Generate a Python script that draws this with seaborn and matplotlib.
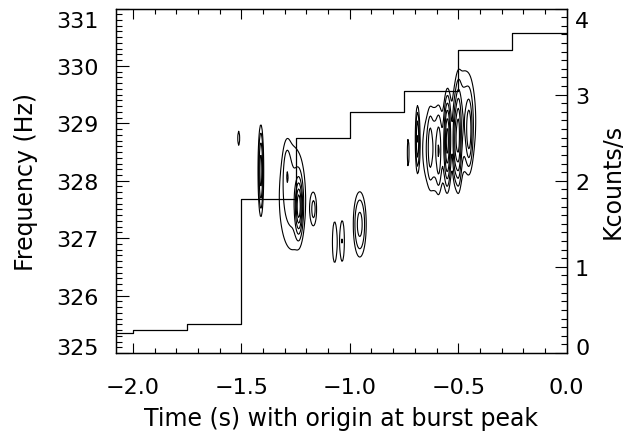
import numpy as np
import pandas as pd
import matplotlib
matplotlib.use("Agg")
import matplotlib.pyplot as plt
import matplotlib.transforms as mtransforms
import seaborn as sns
from matplotlib.ticker import MultipleLocator

sns.set_style("ticks")
plt.rcParams['font.family'] = ['DejaVu Sans']
for k in ['text.color', 'axes.labelcolor', 'xtick.color', 'ytick.color', 'axes.edgecolor']:
    plt.rcParams[k] = 'black'

# ---- count-rate light curve (Kcounts/s), 0.25 s bins ----
bin_edges = [-2.25, -2.0, -1.75, -1.5, -1.25, -1.0, -0.75, -0.5, -0.25, 0.0]
rate_kcps = [0.23, 0.27, 0.34, 1.79, 2.50, 2.80, 3.04, 3.52, 3.71, 3.71]

# ---- power peaks ----
peak_time = [-1.512, -1.41,
             -1.265, -1.235, -1.29, -1.166,
             -1.07, -1.035, -0.954,
             -0.731, -0.688, -0.61, -0.47,
             -0.63, -0.59, -0.55, -0.515, -0.50, -0.45]
peak_freq = [328.74, 328.18,
             327.7, 327.55, 328.2, 327.50,
             326.93, 326.95, 327.24,
             328.49, 328.74, 328.55, 329.05,
             328.6, 328.5, 328.7, 328.65, 328.75, 328.85]
peak_power = [1.3, 3.5,
              1.8, 4.5, 0.8, 1.4,
              1.5, 1.5, 2.5,
              1.3, 2.6, 2.05, 2.05,
              1.0, 1.2, 4.5, 2.0, 4.0, 2.2]
peak_sig_t = [0.006, 0.008,
              0.055, 0.010, 0.012, 0.012,
              0.011, 0.011, 0.022,
              0.005, 0.006, 0.045, 0.042,
              0.007, 0.007, 0.009, 0.007, 0.009, 0.009]
peak_sig_f = [0.17, 0.5,
              0.83, 0.28, 0.35, 0.24,
              0.39, 0.39, 0.42,
              0.3, 0.37, 0.6, 0.72,
              0.35, 0.4, 0.45, 0.4, 0.5, 0.35]
contour_levels = [1.0, 1.5, 2.2, 3.0, 4.0, 5.0]

# grid for the power map
t_grid = np.arange(-2.08, 0.0001, 0.004)
f_grid = np.arange(325.0, 331.0001, 0.05)
T, F = np.meshgrid(t_grid, f_grid)
P = np.zeros_like(T)
for t0, f0, a, st, sf in zip(peak_time, peak_freq, peak_power, peak_sig_t, peak_sig_f):
    P += a * np.exp(-0.5 * (((T - t0) / st) ** 2 + ((F - f0) / sf) ** 2))

W, H = 623, 435
fig = plt.figure(figsize=(W / 100, H / 100), dpi=100)
x0, x1, y0, y1 = 115.5, 566.7, 9.5, 354.0
ax = fig.add_axes([x0 / W, 1 - y1 / H, (x1 - x0) / W, (y1 - y0) / H])
ax2 = ax.twinx()

ax.contour(T, F, P, levels=contour_levels, colors='black', linewidths=0.8)

df = pd.DataFrame({'time': bin_edges, 'rate': rate_kcps})
sns.lineplot(data=df, x='time', y='rate', ax=ax2, color='black',
             linewidth=0.9, drawstyle='steps-post', estimator=None)

ax.set_xlim(-2.08, 0.0)
ax.set_ylim(325, 331)
ax2.set_ylim(0, 4)
ax2.set_xlim(-2.08, 0.0)

freq_ticks = [325, 326, 327, 328, 329, 330, 331]
rate_ticks = [0, 1, 2, 3, 4]
time_ticks = [-2.0, -1.5, -1.0, -0.5, 0.0]
time_tick_labels = ['\u22122.0', '\u22121.5', '\u22121.0', '\u22120.5', '0.0']

ax.set_xticks(time_ticks)
ax.set_xticklabels(time_tick_labels)
ax.xaxis.set_minor_locator(MultipleLocator(0.1))
ax.set_yticks(freq_ticks)
ax.set_yticklabels([str(v) for v in freq_ticks])
ax.yaxis.set_minor_locator(MultipleLocator(0.1))
ax2.set_yticks(rate_ticks)
ax2.set_yticklabels([str(v) for v in rate_ticks])
ax2.yaxis.set_minor_locator(MultipleLocator(0.1))

fs = 16
ax.tick_params(axis='x', which='both', direction='in', top=True, bottom=True,
               labelsize=fs, pad=17)
ax.tick_params(axis='x', which='major', length=7, width=0.8)
ax.tick_params(axis='x', which='minor', length=3.5, width=0.8)
ax.tick_params(axis='y', which='both', direction='in', left=True, right=False,
               labelsize=fs, pad=12)
ax.tick_params(axis='y', which='major', length=9, width=0.8)
ax.tick_params(axis='y', which='minor', length=4.5, width=0.8)
ax2.tick_params(axis='y', which='both', direction='in', right=True, left=False,
                labelsize=fs, pad=6)
ax2.tick_params(axis='y', which='major', length=9, width=0.8)
ax2.tick_params(axis='y', which='minor', length=4.5, width=0.8)

for a in (ax, ax2):
    for s in a.spines.values():
        s.set_linewidth(0.9)
        s.set_visible(True)

lfs = 17
ax.set_xlabel('Time (s) with origin at burst peak', fontsize=lfs)
ax.xaxis.set_label_coords(0.5, -0.155)
ax.set_ylabel('Frequency (Hz)', fontsize=lfs)
ax.yaxis.set_label_coords(-0.172, 0.5)
ax2.set_ylabel('Kcounts/s', fontsize=lfs)
ax2.yaxis.set_label_coords(1.074, 0.5)

# end labels of the y axes sit slightly inside the frame
down = mtransforms.ScaledTranslation(0, -11 / 100, fig.dpi_scale_trans)
up = mtransforms.ScaledTranslation(0, 7 / 100, fig.dpi_scale_trans)
lt = ax.yaxis.get_major_ticks()
lt[0].label1.set_transform(lt[0].label1.get_transform() + up)
lt[-1].label1.set_transform(lt[-1].label1.get_transform() + down)
rt = ax2.yaxis.get_major_ticks()
rt[0].label2.set_transform(rt[0].label2.get_transform() + up)
rt[-1].label2.set_transform(rt[-1].label2.get_transform() + down)

fig.savefig('out.png', dpi=100)
